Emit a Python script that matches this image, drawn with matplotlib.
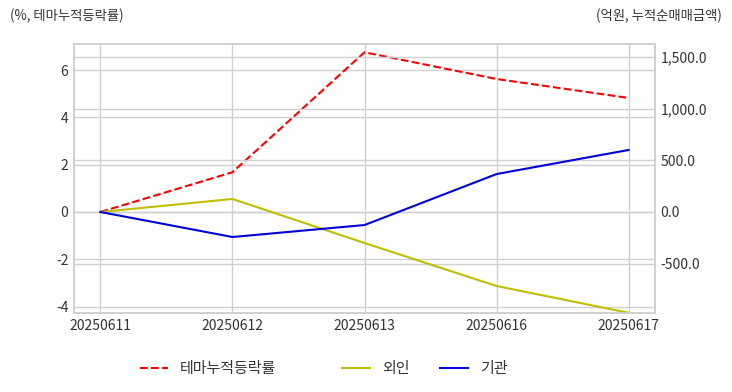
import matplotlib
import matplotlib.pyplot as plt

matplotlib.use("Agg")

dates = ["20250611", "20250612", "20250613", "20250616", "20250617"]
theme_rate = [0.0, 1.68, 6.75, 5.62, 4.82]
foreign = [0.0, 126.0, -300.0, -716.0, -975.0]
institution = [0.0, -242.0, -126.0, 367.0, 600.0]

plt.rcParams["font.family"] = ["Noto Sans CJK KR", "DejaVu Sans"]
plt.rcParams["axes.unicode_minus"] = False

fig = plt.figure(figsize=(7.32, 3.92), dpi=100)
ax = fig.add_axes([74 / 732, 1 - 313 / 392, 581 / 732, 269 / 392])
ax2 = ax.twinx()

x = list(range(len(dates)))
l1, = ax.plot(x, theme_rate, color="red", linestyle="--", lw=1.5, label="테마누적등락률")
l2, = ax2.plot(x, foreign, color="#bfbf00", lw=1.5, label="외인")
l3, = ax2.plot(x, institution, color="#0000dd", lw=1.5, label="기관")

ax.set_xlim(-0.2, 4.2)
ax.set_ylim(-4.27, 7.1)
ax2.set_ylim(-977, 1625)
ax.set_yticks([-4, -2, 0, 2, 4, 6])
ax2.set_yticks([-500, 0, 500, 1000, 1500])
ax2.set_yticklabels([f"{v:,.1f}" for v in [-500, 0, 500, 1000, 1500]])
ax.set_xticks(x)
ax.set_xticklabels(dates)

for a in (ax, ax2):
    a.grid(True, color="#d0d0d0", lw=1)
    a.tick_params(length=0, labelsize=10, colors="#333333", pad=4)
    for s in a.spines.values():
        s.set_color("#d0d0d0")
        s.set_linewidth(1.2)
ax2.set_xticks(x)
ax2.grid(False, axis="x")

fig.text(10 / 732, 1 - 16 / 392, "(%, 테마누적등락률)", fontsize=9.6, color="#333333", va="center")
fig.text(722 / 732, 1 - 16 / 392, "(억원, 누적순매매금액)", fontsize=9.6, color="#333333", va="center", ha="right")

leg_kw = dict(frameon=False, fontsize=10.8, handlelength=1.87, handletextpad=0.8,
              labelcolor="#333333", borderpad=0, borderaxespad=0)
leg1 = fig.legend(handles=[l1], loc="center left", bbox_to_anchor=(140 / 732, 1 - 369 / 392), **leg_kw)
leg2 = fig.legend(handles=[l2, l3], loc="center left", bbox_to_anchor=(342 / 732, 1 - 369 / 392),
                  ncol=2, columnspacing=2.0, **leg_kw)

fig.savefig("out.png", dpi=100)
